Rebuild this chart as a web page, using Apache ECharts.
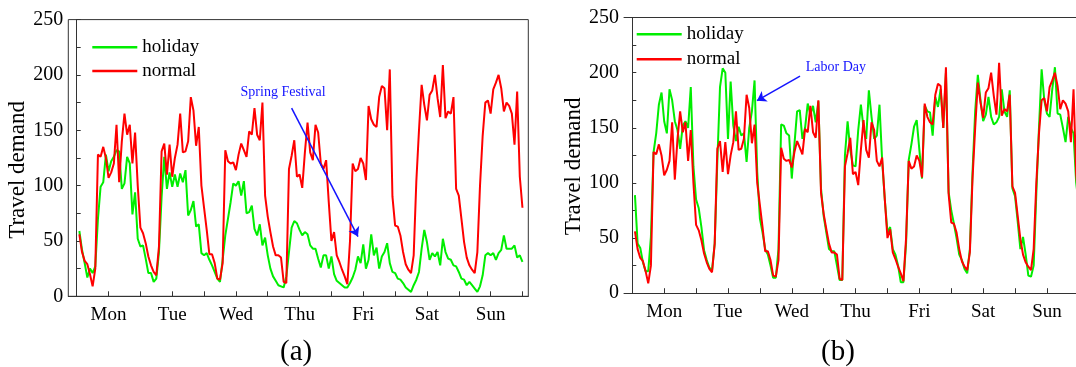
<!DOCTYPE html>
<html>
<head>
<meta charset="utf-8">
<script src="https://cdn.jsdelivr.net/npm/echarts@6/dist/echarts.min.js"></script>
<style>
  html, body { margin: 0; padding: 0; background: #fff; }
  #chart { width: 1076px; height: 367px; }
</style>
</head>
<body>
<div id="chart"></div>
<script>
// hourly travel demand, hour 1 .. 168 (Mon .. Sun)
const normalWeek = [
  56, 40, 32, 29, 20, 9, 25, 128, 126, 135, 125, 107, 112, 120, 155, 103, 140, 165, 146, 155, 120, 148, 100, 62,
  57, 48, 36, 28, 22, 19, 45, 131, 138, 110, 137, 108, 125, 137, 165, 130, 131, 140, 180, 168, 136, 153, 100, 80,
  60, 38, 38, 30, 16, 15, 30, 132, 122, 120, 121, 114, 128, 138, 132, 126, 149, 146, 170, 146, 141, 175, 91, 72,
  58, 45, 37, 37, 35, 13, 12, 115, 127, 141, 108, 110, 98, 130, 157, 130, 123, 155, 148, 120, 115, 123, 85, 50,
  58, 37, 31, 24, 18, 11, 50, 120, 113, 115, 125, 120, 105, 172, 160, 155, 153, 180, 190, 188, 150, 205, 90, 64,
  63, 55, 40, 29, 24, 21, 37, 104, 150, 191, 173, 159, 182, 186, 200, 179, 162, 209, 161, 167, 165, 180, 97, 91,
  70, 49, 35, 28, 24, 21, 40, 100, 145, 175, 177, 165, 187, 193, 200, 188, 167, 175, 172, 165, 137, 185, 108, 80
];

const springHoliday = [
  59, 42, 30, 17, 25, 21, 27, 70, 99, 103, 128, 113, 122, 126, 132, 131, 97, 102, 126, 120, 74, 94, 52, 45,
  46, 34, 21, 21, 13, 16, 40, 90, 126, 97, 112, 99, 110, 99, 111, 103, 114, 73, 78, 86, 63, 65, 39, 37,
  39, 33, 28, 22, 16, 13, 33, 55, 70, 85, 102, 100, 104, 91, 104, 75, 76, 82, 61, 55, 65, 46, 53, 37,
  25, 18, 14, 10, 9, 8, 18, 40, 62, 68, 66, 60, 55, 58, 56, 46, 43, 43, 34, 26, 37, 37, 25, 36,
  20, 14, 12, 10, 8, 8, 12, 17, 24, 36, 30, 47, 25, 33, 56, 37, 44, 25, 36, 40, 48, 30, 22, 21,
  16, 15, 12, 8, 6, 4, 10, 15, 22, 43, 60, 49, 33, 39, 36, 40, 28, 52, 40, 34, 33, 28, 27, 22,
  16, 15, 10, 13, 10, 7, 4, 9, 19, 37, 39, 37, 39, 33, 39, 42, 55, 43, 43, 43, 46, 35, 37, 31
];

const laborHoliday = [
  89, 45, 41, 28, 20, 20, 51, 128, 145, 171, 182, 156, 145, 185, 175, 156, 148, 131, 152, 156, 150, 187, 115, 85,
  77, 60, 39, 30, 23, 21, 45, 120, 187, 204, 200, 140, 192, 152, 138, 151, 143, 145, 119, 150, 165, 193, 110, 68,
  55, 40, 35, 25, 14, 14, 40, 153, 152, 145, 143, 104, 135, 165, 166, 140, 150, 172, 162, 170, 155, 174, 95, 70,
  55, 40, 38, 38, 25, 12, 12, 125, 156, 130, 116, 115, 148, 171, 150, 140, 184, 160, 140, 143, 171, 120, 85, 55,
  60, 40, 35, 25, 10, 10, 45, 121, 135, 151, 157, 130, 104, 170, 165, 164, 143, 178, 169, 185, 150, 200, 92, 75,
  63, 50, 35, 30, 22, 18, 40, 110, 165, 198, 175, 156, 162, 178, 160, 153, 155, 160, 185, 165, 160, 184, 95, 88,
  65, 40, 51, 35, 16, 15, 25, 90, 150, 203, 175, 163, 160, 185, 205, 163, 162, 150, 137, 160, 150, 145, 100, 80
];

const days = ['Mon', 'Tue', 'Wed', 'Thu', 'Fri', 'Sat', 'Sun'];
const dayCenters = [12, 36, 60, 84, 108, 132, 156];
const hourTicks = [0, 12, 24, 36, 48, 60, 72, 84, 96, 108, 120, 132, 144, 156, 168];

// annotations: [hour, demand]
const springArrow = [[81, 170], [106, 54]];
const springLabel = [77.8, 184];
const laborArrow = [[63.1, 197], [46.9, 174.6]];
const laborLabel = [76.6, 205];

const GREEN = '#00ee00';
const RED = '#ff0000';
const BLUE = '#1414ff';
const AXIS = '#333';
const FONT = '"Liberation Serif", "Times New Roman", serif';

function pairs(arr) {
  return arr.map((v, i) => [i + 1, v]);
}

function xAxisFor(gridIndex, min, max) {
  return {
    type: 'value', gridIndex, min, max,
    axisLine: { lineStyle: { color: AXIS, width: 1 } },
    axisTick: { inside: true, length: 5, customValues: hourTicks, lineStyle: { color: AXIS } },
    axisLabel: {
      customValues: dayCenters, margin: 9,
      formatter: v => days[dayCenters.indexOf(v)] || '',
      fontFamily: FONT, fontSize: 19, color: '#000'
    },
    splitLine: { show: false }
  };
}

// plain frame line along the top of panel (b), which runs off the right edge
function topLine(gridIndex, min, max) {
  return {
    type: 'value', gridIndex, min, max, position: 'top',
    axisLine: { show: true, onZero: false, lineStyle: { color: AXIS, width: 1 } },
    axisTick: { show: false }, axisLabel: { show: false }, splitLine: { show: false }
  };
}

function yAxisFor(gridIndex, gap, pad) {
  return {
    type: 'value', gridIndex, min: 0, max: 250, interval: 25,
    name: 'Travel demand', nameLocation: 'middle', nameRotate: 90, nameGap: gap,
    nameTextStyle: { fontFamily: FONT, fontSize: 23, color: '#000', padding: [0, pad, 0, 0] },
    axisLine: { show: true, lineStyle: { color: AXIS, width: 1 } },
    axisTick: { inside: true, length: 4, lineStyle: { color: AXIS } },
    axisLabel: {
      margin: 5, fontFamily: FONT, fontSize: 20, color: '#000',
      formatter: v => (v % 50 === 0 ? String(v) : '')
    },
    splitLine: { show: false }
  };
}

function legendFor(left, top, gap) {
  return {
    orient: 'vertical', left, top, padding: 0, itemGap: gap,
    icon: 'rect', itemWidth: 45, itemHeight: 2.5, selectedMode: false,
    data: ['holiday', 'normal'],
    textStyle: { fontFamily: FONT, fontSize: 19, color: '#000', lineHeight: 20 }
  };
}

function annotate(arrow, label, text) {
  return {
    markLine: {
      silent: true, animation: false,
      symbol: ['none', 'arrow'], symbolSize: 9,
      lineStyle: { color: BLUE, width: 1.5, type: 'solid' },
      label: { show: false },
      data: [[{ coord: arrow[0] }, { coord: arrow[1] }]]
    },
    markPoint: {
      silent: true, animation: false,
      symbol: 'circle', symbolSize: 0,
      label: { show: true, formatter: text, color: BLUE, fontFamily: FONT, fontSize: 14 },
      data: [{ coord: label }]
    }
  };
}

function lineSeries(name, data, color, axisIndex, extra) {
  return Object.assign({
    name, type: 'line', xAxisIndex: axisIndex, yAxisIndex: axisIndex,
    data: pairs(data), showSymbol: false, symbol: 'none',
    lineStyle: { color, width: 2 }, itemStyle: { color },
    emphasis: { disabled: true }
  }, extra || {});
}

const labelStyle = { fontFamily: FONT, fontSize: 29, fontWeight: 'normal', color: '#000' };

const chart = echarts.init(document.getElementById('chart'));
chart.setOption({
  animation: false,
  backgroundColor: '#fff',
  title: [
    { text: '(a)', left: 275, top: 333, textStyle: labelStyle },
    { text: '(b)', left: 816, top: 333, textStyle: labelStyle }
  ],
  grid: [
    { left: 68.3, right: 547.7, top: 19.6, bottom: 70.7, show: true, borderColor: AXIS, borderWidth: 1, backgroundColor: 'transparent' },
    { left: 624, right: 0, top: 17.6, bottom: 73.8 }
  ],
  legend: [legendFor(92.3, 37.3, 3.7), legendFor(636.7, 24.3, 5)],
  xAxis: [xAxisFor(0, -3.17, 170.2), xAxisFor(1, -3.12, 166.93), topLine(1, -3.12, 166.93)],
  yAxis: [yAxisFor(0, 32, 24), yAxisFor(1, 38, 22)],
  series: [
    lineSeries('holiday', springHoliday, GREEN, 0, annotate(springArrow, springLabel, 'Spring Festival')),
    lineSeries('normal', normalWeek, RED, 0),
    lineSeries('holiday', laborHoliday, GREEN, 1, annotate(laborArrow, laborLabel, 'Labor Day')),
    lineSeries('normal', normalWeek, RED, 1)
  ]
});
</script>
</body>
</html>
